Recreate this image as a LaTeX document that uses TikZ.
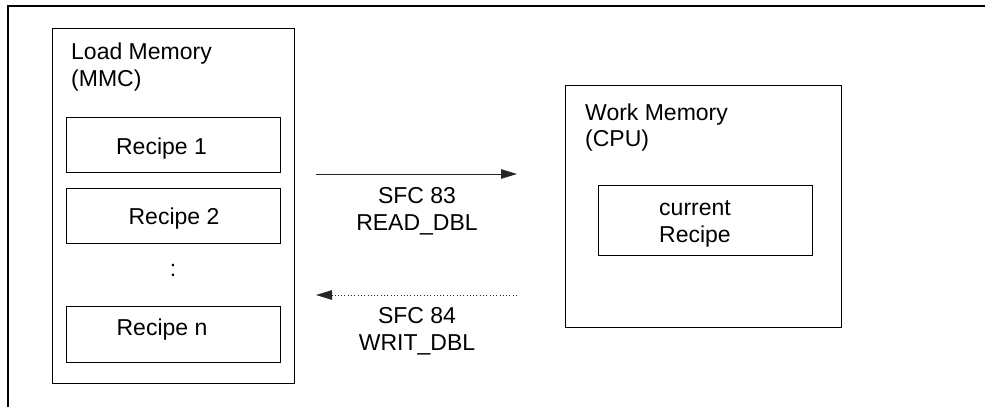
\documentclass[tikz,border=0pt]{standalone}
\usepackage{fontspec}
\setmainfont{Liberation Sans}
\usetikzlibrary{arrows.meta}
\begin{document}
\begin{tikzpicture}[x=1pt,y=-1pt,
  frame/.style={draw=black,line width=1.3pt},
  box/.style={draw=black,line width=1.2pt,inner sep=0pt,anchor=north west},
  txt/.style={font=\fontsize{23}{26.5}\selectfont,inner sep=0pt},
  flow/.style={draw=black!85,line width=1pt,-{Triangle[length=16pt,width=9.5pt]}},
  dots/.style={dash pattern=on 1pt off 2.3pt}]
\useasboundingbox (0,0) rectangle (985,407);
\coordinate (fa) at (8,407);
\coordinate (fb) at (8,6);
\coordinate (fc) at (985,6);
\draw[frame] (fa) -- (fb) -- (fc);
% Load memory
\node[box,minimum width=242pt,minimum height=355pt] (load) at (52,28) {};
\node[txt,anchor=base west,align=left] (loadt) at (71,86) {Load Memory\\(MMC)};
\node[box,minimum width=214pt,minimum height=55pt] (r1) at (66,117) {};
\node[txt,anchor=base] (r1t) at (161.5,154) {Recipe 1};
\node[box,minimum width=214pt,minimum height=55pt] (r2) at (66,188) {};
\node[txt,anchor=base] (r2t) at (174,224) {Recipe 2};
\node[txt,anchor=base] (dots) at (173,276) {:};
\node[box,minimum width=214pt,minimum height=56pt] (rn) at (66,306) {};
\node[txt,anchor=base] (rnt) at (162,335) {Recipe n};
% Work memory
\node[box,minimum width=276pt,minimum height=242pt] (work) at (565,85) {};
\node[txt,anchor=base west,align=left] (workt) at (585,146.5) {Work Memory\\(CPU)};
\node[box,minimum width=214pt,minimum height=70pt] (cur) at (598,185) {};
\node[txt,anchor=base,align=center] (curt) at (695,242) {current\\Recipe};
% arrows
\coordinate (a1s) at (316,174);
\coordinate (a1e) at (517,174);
\draw[flow] (a1s) -- (a1e);
\node[txt,anchor=base,align=center] (a1t) at (417,230) {SFC 83\\READ\_DBL};
\coordinate (a2s) at (517,295);
\coordinate (a2e) at (316,295);
\draw[flow,dots] (a2s) -- (a2e);
\node[txt,anchor=base,align=center] (a2t) at (417,350) {SFC 84\\WRIT\_DBL};
\end{tikzpicture}
\end{document}
